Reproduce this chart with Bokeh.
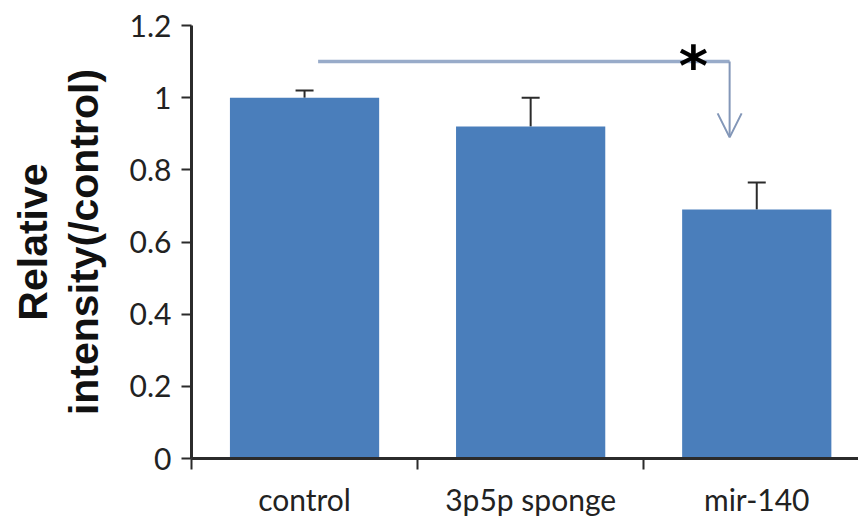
from bokeh.plotting import figure
from bokeh.models import (Range1d, FixedTicker, NumeralTickFormatter, Whisker, TeeHead,
                          ColumnDataSource, Arrow, OpenHead, Label)
from bokeh.embed import file_html
from bokeh.resources import INLINE

# ---- data ----
categories = ["control", "3p5p sponge", "mir-140"]
means = [1.00, 0.92, 0.69]
err_upper = [1.02, 1.00, 0.765]
y_ticks = [0, 0.2, 0.4, 0.6, 0.8, 1.0, 1.2]
y_label = "Relative\nintensity(/control)"
sig_text = "*"
sig_level = 1.10
sig_tip = 0.89

x_pos = [i + 0.5 for i in range(len(categories))]
boundaries = [float(i) for i in range(len(categories) + 1)]

src = ColumnDataSource(dict(x=x_pos, top=means, upper=err_upper))

AX = "#2b2b2b"
BAR = "#4a7ebb"
ANN = "#98abc9"
TICK_FONT = "Lato"

p = figure(width=858, height=519, output_backend="svg", toolbar_location=None,
           x_range=Range1d(0, 2.95), y_range=Range1d(0, 1.2),
           min_border_left=191, min_border_right=0, min_border_top=25, min_border_bottom=60)
p.outline_line_color = None
p.background_fill_color = "white"
p.border_fill_color = "white"

p.vbar(x="x", top="top", width=0.66, source=src, fill_color=BAR, line_color=None)

p.add_layout(Whisker(source=src, base="x", lower="top", upper="upper",
                     line_color=AX, line_width=2,
                     upper_head=TeeHead(size=18, line_color=AX, line_width=2),
                     lower_head=None))

# significance bracket: from control to mir-140
x_a = x_pos[0] + 0.06
x_b = x_pos[2] - 0.12
p.add_layout(Arrow(x_start=x_a, y_start=sig_level, x_end=x_b, y_end=sig_level,
                   start=None, end=None, line_color=ANN, line_width=3.5))
p.add_layout(Arrow(x_start=x_b, y_start=sig_level, x_end=x_b, y_end=sig_tip,
                   start=None, end=OpenHead(size=24, line_color="#8397b8", line_width=2),
                   line_color="#8397b8", line_width=2))
p.add_layout(Label(x=x_b - 0.16, y=sig_level, text=sig_text, text_font_size="56px",
                   text_font_style="bold", text_align="center", text_baseline="middle",
                   text_color="black", text_font="DejaVu Sans", y_offset=-4))

# grids
p.xgrid.visible = False
p.ygrid.ticker = FixedTicker(ticks=[y_ticks[-1]])
p.ygrid.grid_line_color = AX
p.ygrid.grid_line_width = 3

# y axis
ya = p.yaxis[0]
ya.ticker = FixedTicker(ticks=y_ticks)
ya.formatter = NumeralTickFormatter(format="0.[0]")
ya.axis_line_color = AX
ya.axis_line_width = 3
ya.major_tick_line_color = AX
ya.major_tick_line_width = 2
ya.major_tick_out = 10
ya.major_tick_in = 0
ya.minor_tick_line_color = None
ya.major_label_text_font = TICK_FONT
ya.major_label_text_font_size = "30px"
ya.major_label_text_color = "#222222"
ya.major_label_standoff = 10
ya.axis_label = y_label
ya.axis_label_text_font = "Liberation Sans"
ya.axis_label_text_font_style = "bold"
ya.axis_label_text_font_size = "41px"
ya.axis_label_text_line_height = 1.1
ya.axis_label_text_color = "#111111"
ya.axis_label_standoff = 20

# x axis
xa = p.xaxis[0]
xa.ticker = FixedTicker(ticks=x_pos, minor_ticks=boundaries)
xa.major_label_overrides = {xv: c for xv, c in zip(x_pos, categories)}
xa.axis_line_color = AX
xa.axis_line_width = 3
xa.major_tick_out = 0
xa.major_tick_in = 0
xa.minor_tick_line_color = AX
xa.minor_tick_line_width = 2
xa.minor_tick_out = 11
xa.minor_tick_in = 0
xa.major_label_text_font = TICK_FONT
xa.major_label_text_font_size = "30px"
xa.major_label_text_color = "#222222"
xa.major_label_standoff = 11

open("out.html", "w").write(file_html(p, INLINE))
